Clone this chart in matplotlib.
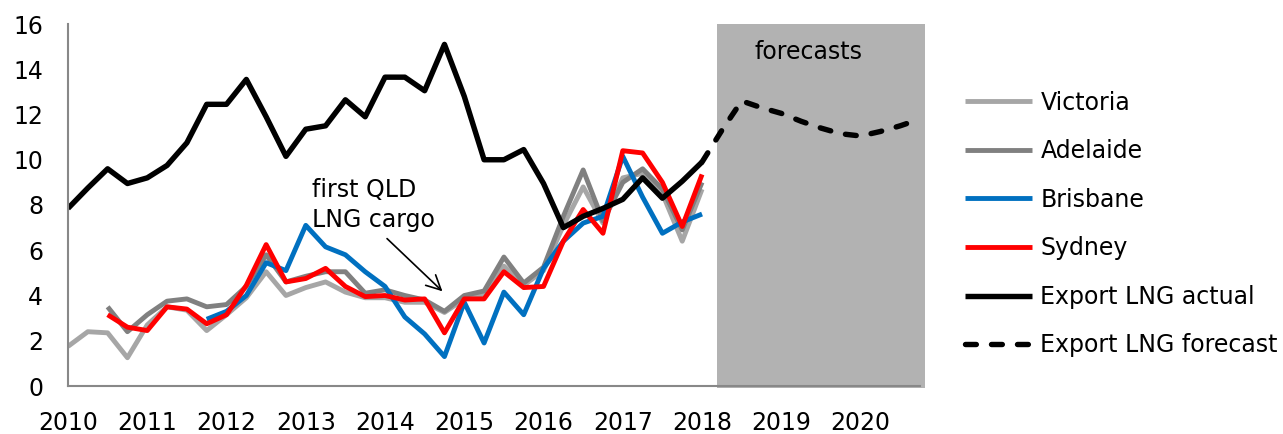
import matplotlib.pyplot as plt
import numpy as np
from matplotlib.patches import Rectangle

# quarterly series, index 0 = 2010 Q1
years = [2010, 2011, 2012, 2013, 2014, 2015, 2016, 2017, 2018, 2019, 2020]

victoria = [1.75, 2.4, 2.35, 1.25, 2.7, 3.5, 3.35, 2.45, 3.15, 3.9, 5.05, 4.0, 4.35,
            4.6, 4.15, 3.9, 3.9, 3.7, 3.7, 3.25, 3.85, 4.05, 5.3, 4.45, 5.1, 7.1,
            8.8, 7.2, 9.2, 9.4, 8.5, 6.4, 8.7]
adelaide = [None, None, 3.5, 2.4, 3.15, 3.75, 3.85, 3.5, 3.6, 4.4, 5.8, 4.6, 4.85,
            5.05, 5.05, 4.1, 4.25, 4.0, 3.8, 3.3, 4.0, 4.2, 5.7, 4.55, 5.25, 7.5,
            9.55, 7.3, 9.0, 9.6, 8.7, 6.9, 9.0]
brisbane = [None] * 7 + [2.95, 3.3, 4.0, 5.45, 5.1, 7.1, 6.15, 5.8, 5.05, 4.4, 3.05,
                         2.3, 1.3, 3.7, 1.9, 4.15, 3.15, 5.2, 6.4, 7.2, 7.5, 10.15,
                         8.35, 6.75, 7.25, 7.6]
sydney = [None, None, 3.15, 2.6, 2.45, 3.5, 3.4, 2.75, 3.15, 4.45, 6.25, 4.6, 4.75,
          5.2, 4.4, 3.95, 4.0, 3.8, 3.85, 2.35, 3.85, 3.85, 5.05, 4.35, 4.4, 6.4,
          7.8, 6.75, 10.4, 10.3, 9.0, 7.05, 9.35]
lng_actual = [7.85, 8.75, 9.6, 8.95, 9.2, 9.75, 10.75, 12.45, 12.45, 13.55, 11.9,
              10.15, 11.35, 11.5, 12.65, 11.9, 13.65, 13.65, 13.05, 15.1, 12.8, 10.0,
              10.0, 10.45, 8.95, 7.0, 7.5, 7.85, 8.25, 9.2, 8.3, 9.05, 9.9]
lng_forecast = [9.9, 11.3, 12.6, 12.3, 12.05, 11.7, 11.4, 11.15, 11.05, 11.25, 11.5, 11.8]

def as_arr(v):
    return np.array([np.nan if a is None else a for a in v], dtype=float)

plt.rcParams['font.family'] = 'DejaVu Sans'
fs = 17
fig = plt.figure(figsize=(12.83, 4.34), dpi=100)
ax = fig.add_axes([68 / 1283, 1 - 386 / 434, 852 / 1283, 362 / 434])

ax.add_patch(Rectangle((32.75, -0.07), 10.5, 16.07, facecolor='#B2B2B2',
                       edgecolor='none', clip_on=False, zorder=0.5))

x = np.arange(len(victoria))
lw = 3.5
ax.plot(x, as_arr(victoria), color='#A6A6A6', lw=lw, label='Victoria', solid_capstyle='butt')
ax.plot(x, as_arr(adelaide), color='#808080', lw=lw, label='Adelaide', solid_capstyle='butt')
ax.plot(x, as_arr(brisbane), color='#0070C0', lw=lw, label='Brisbane', solid_capstyle='butt')
ax.plot(x, as_arr(sydney), color='#FF0000', lw=lw, label='Sydney', solid_capstyle='butt')
ax.plot(x, as_arr(lng_actual), color='black', lw=3.9, label='Export LNG actual',
        solid_capstyle='butt')
xf = np.arange(32, 32 + len(lng_forecast))
ax.plot(xf, lng_forecast, color='black', lw=3.9, ls=(0, (2.0, 2.8)),
        dash_capstyle='round', label='Export LNG forecast')

ax.set_xlim(0, 43)
ax.set_ylim(0, 16)
ax.set_yticks(range(0, 17, 2))
ax.set_xticks(range(0, 44, 4))
ax.set_xticklabels([str(y) for y in years])
ax.tick_params(axis='both', length=0, labelsize=fs)
ax.tick_params(axis='y', pad=18)
ax.tick_params(axis='x', pad=18)
for s in ['top', 'right']:
    ax.spines[s].set_visible(False)
for s in ['left', 'bottom']:
    ax.spines[s].set_color('#888888')
    ax.spines[s].set_linewidth(1.5)
    ax.spines[s].set_zorder(3)

ax.text(12.3, 8.0, 'first QLD\nLNG cargo', fontsize=fs, ha='left', va='center',
        linespacing=1.35)
ax.annotate('', xy=(19.0, 4.1), xytext=(16.0, 6.6),
            arrowprops=dict(arrowstyle='->', color='black', lw=1.2,
                            mutation_scale=26))
ax.text(37.35, 14.76, 'forecasts', fontsize=fs, ha='center', va='center')

fig.legend(loc='center left', bbox_to_anchor=(965 / 1283, 1 - 224 / 434),
           frameon=False, fontsize=fs, handlelength=2.85, handletextpad=0.34,
           labelspacing=1.04, borderpad=0, borderaxespad=0)

fig.savefig('out.png', dpi=100)
